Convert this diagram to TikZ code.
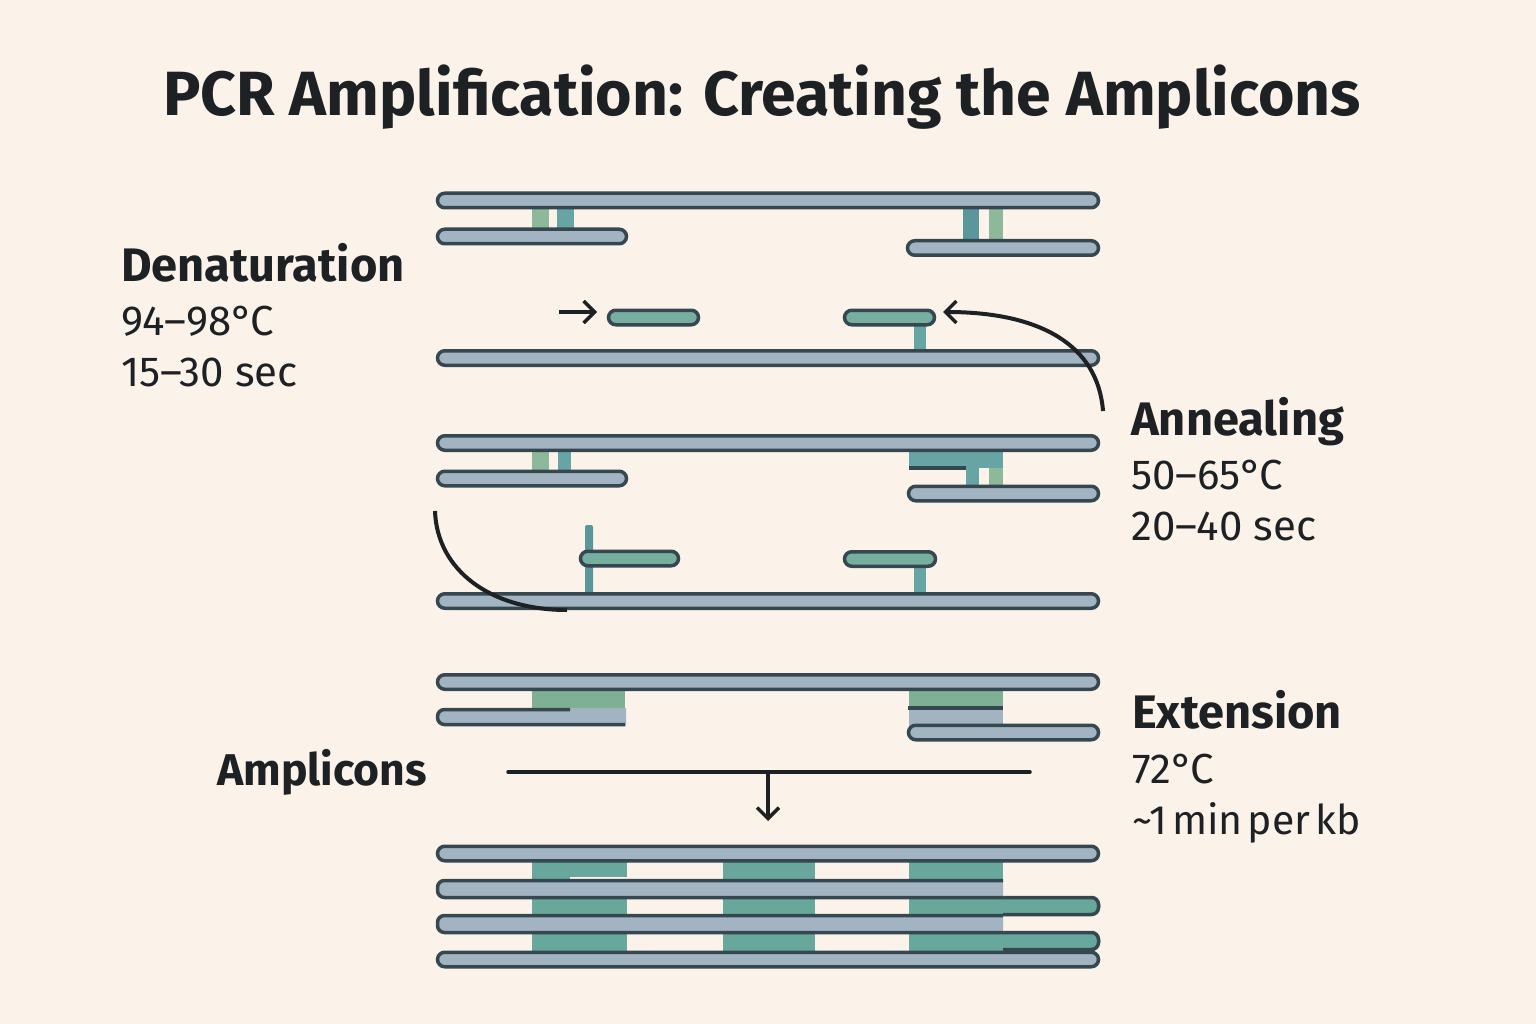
\documentclass[tikz,border=0pt]{standalone}
\usepackage{fontspec}
\setmainfont{Fira Sans}
\usetikzlibrary{arrows.meta}
\usetikzlibrary{shapes.misc}

\definecolor{paper}{HTML}{FBF3EA}
\definecolor{strandgray}{HTML}{A2B4C1}
\definecolor{stranddark}{HTML}{36474F}
\definecolor{primergreen}{HTML}{76AE9F}
\definecolor{rungteal}{HTML}{66A5A3}
\definecolor{rungdark}{HTML}{5A979B}
\definecolor{runggreen}{HTML}{8DB89A}
\definecolor{blockgreen}{HTML}{7FB094}
\definecolor{ampteal}{HTML}{67A79C}
\definecolor{inkblack}{HTML}{1E2124}

\tikzset{
  strand/.style={rounded rectangle, draw=stranddark, fill=strandgray, line width=3.5pt, minimum height=14.5pt, inner sep=0pt, outer sep=0pt},
  primer/.style={strand, fill=primergreen},
  strandfill/.style={strand, draw=none, rounded rectangle east arc=none, minimum height=18pt},
  ampfill/.style={strand, draw=none, fill=ampteal, rounded rectangle west arc=none, minimum height=18pt},
  strandedge/.style={stranddark, line width=3.5pt, rounded corners=7pt},
  arrowline/.style={-{Straight Barb[width=22pt,length=11pt,line width=3.5pt]}, line width=3.2pt, color=inkblack},
  titletext/.style={inner sep=0pt, anchor=base, font=\fontsize{62.5}{64}\selectfont\bfseries, text=inkblack},
  steptext/.style={inner sep=0pt, anchor=base west, font=\fontsize{47}{49}\selectfont\bfseries, text=inkblack},
  infotext/.style={inner sep=0pt, anchor=base west, font=\fontsize{42}{44}\selectfont, text=inkblack}
}

\begin{document}
\begin{tikzpicture}[x=1pt,y=-1pt]

    \fill[paper] (0,0) rectangle (1536,1024);
    \useasboundingbox (0,0) rectangle (1536,1024);

    \node[titletext] (title) at (762,116) {PCR Amplification: Creating the Amplicons};

    \node[steptext] (denat) at (121,281) {Denaturation};
    \node[infotext] (denattemp) at (121,335) {94--98°\kern-3pt C};
    \node[infotext] (denattime) at (121,386) {15--30 sec};

    \node[steptext] (anneal) at (1131,435) {Annealing};
    \node[infotext] (annealtemp) at (1131,489) {50--65°\kern-3pt C};
    \node[infotext] (annealtime) at (1131,540) {20--40 sec};

    \node[steptext] (extend) at (1132,728) {Extension};
    \node[infotext] (extendtemp) at (1132,783) {72°\kern-3pt C};
    \node[infotext, font=\fontsize{41}{43}\selectfont] (extendtime) at (1132,834) {\textasciitilde 1\hspace{5pt}min\hspace{5pt}per\hspace{5pt}kb};

    \node[steptext, font=\fontsize{44.5}{46}\selectfont\bfseries] (amplicons) at (217,785) {Amplicons};

    % first pair
    \fill[runggreen] (532,205) rectangle (549,232);
    \fill[rungteal] (557,205) rectangle (574,232);
    \fill[rungdark] (963,205) rectangle (979,243);
    \fill[runggreen] (989,205) rectangle (1003,243);
    \node[strand, minimum width=661pt] (topa) at (768,200.5) {};
    \node[strand, minimum width=189pt] (lowaleft) at (532,236.5) {};
    \node[strand, minimum width=191pt] (lowaright) at (1003,248) {};

    % primers on the single strand
    \fill[rungteal] (914,322) rectangle (926,352);
    \node[primer, minimum width=90pt] (primera) at (653.5,317.5) {};
    \node[primer, minimum width=90pt] (primerb) at (889.5,317.5) {};
    \node[strand, minimum width=661pt] (singlea) at (768,358) {};

    \coordinate (arrowastart) at (559,312);
    \coordinate (arrowaend) at (597,312);
    \draw[arrowline] (arrowastart) -- (arrowaend);

    \coordinate (curveastart) at (1103,411);
    \coordinate (curveaend) at (943,312);
    \draw[arrowline, line width=4pt] (curveastart) .. controls (1098,345) and (1040,312) .. (curveaend);

    % second pair
    \fill[runggreen] (532,448) rectangle (549,474);
    \fill[rungteal] (558,448) rectangle (571,474);
    \fill[rungteal] (909,448) rectangle (1003,468);
    \fill[rungteal] (966,468) rectangle (979,489);
    \fill[runggreen] (989,468) rectangle (1003,489);
    \draw[stranddark, line width=3.5pt] (909,468) -- (966,468);
    \node[strand, minimum width=661pt] (topb) at (768,443) {};
    \node[strand, minimum width=189pt] (lowbleft) at (532,478.5) {};
    \node[strand, minimum width=190pt] (lowbright) at (1003.5,493.5) {};

    % primers on the second single strand
    \fill[rungdark] (585,525) [rounded corners=2pt] rectangle (593,596);
    \fill[rungteal] (914,564) rectangle (926,596);
    \node[primer, minimum width=98pt] (primerc) at (629.5,558.5) {};
    \node[primer, minimum width=91pt] (primerd) at (890,559) {};
    \node[strand, minimum width=661pt] (singleb) at (768,601) {};

    \coordinate (curvebstart) at (435,511);
    \coordinate (curvebend) at (567,610);
    \draw[line width=4pt, color=inkblack] (curvebstart) .. controls (437,570) and (490,610) .. (curvebend);

    % third pair
    \fill[blockgreen] (532,687) rectangle (625,708);
    \fill[blockgreen] (909,687) rectangle (1003,708);
    \fill[strandgray] (909,708) rectangle (1003,727);
    \node[strand, minimum width=661pt] (topc) at (768,682) {};
    \node[strandfill, minimum width=190pt] (lowcleft) at (531,717) {};
    \draw[strandedge] (570,709.5) -- (437.5,709.5) -- (437.5,724.5) -- (625,724.5);
    \draw[stranddark, line width=3.5pt] (908,708) -- (1003,708);
    \node[strand, minimum width=190pt] (lowcright) at (1003.5,732.5) {};

    % down to the products
    \coordinate (barleft) at (508,772);
    \coordinate (barright) at (1030,772);
    \coordinate (barmid) at (768,772);
    \coordinate (barend) at (768,821);
    \draw[line width=3.5pt, color=inkblack, line cap=round] (barleft) -- (barright);
    \draw[arrowline] (barmid) -- (barend);

    % products
    \foreach \xa/\xb in {532/627, 723/815, 909/1003} {
      \fill[ampteal] (\xa,860) rectangle (\xb,882);
      \fill[ampteal] (\xa,895) rectangle (\xb,918);
      \fill[ampteal] (\xa,930) rectangle (\xb,953);
    }
    \fill[paper] (570,877) rectangle (627,879);
    \node[strand, minimum width=661pt] (ampa) at (768,853.5) {};
    \node[ampfill, minimum width=191pt] (ampc) at (1005,906) {};
    \node[ampfill, minimum width=191pt] (ampe) at (1005,941) {};
    \draw[strandedge] (1003,897.5) -- (1098.5,897.5) -- (1098.5,914.5) -- (1003,914.5);
    \draw[strandedge] (1003,932.5) -- (1098.5,932.5) -- (1098.5,949.5) -- (1003,949.5);
    \node[strandfill, minimum width=567pt] (ampb) at (719.5,889) {};
    \node[strandfill, minimum width=567pt] (ampd) at (719.5,924) {};
    \draw[strandedge] (1003,880.5) -- (437.5,880.5) -- (437.5,897.5) -- (1003,897.5);
    \draw[strandedge] (1003,915.5) -- (437.5,915.5) -- (437.5,932.5) -- (1003,932.5);
    \node[strand, minimum width=661pt] (ampf) at (768,959.5) {};

\end{tikzpicture}
\end{document}
